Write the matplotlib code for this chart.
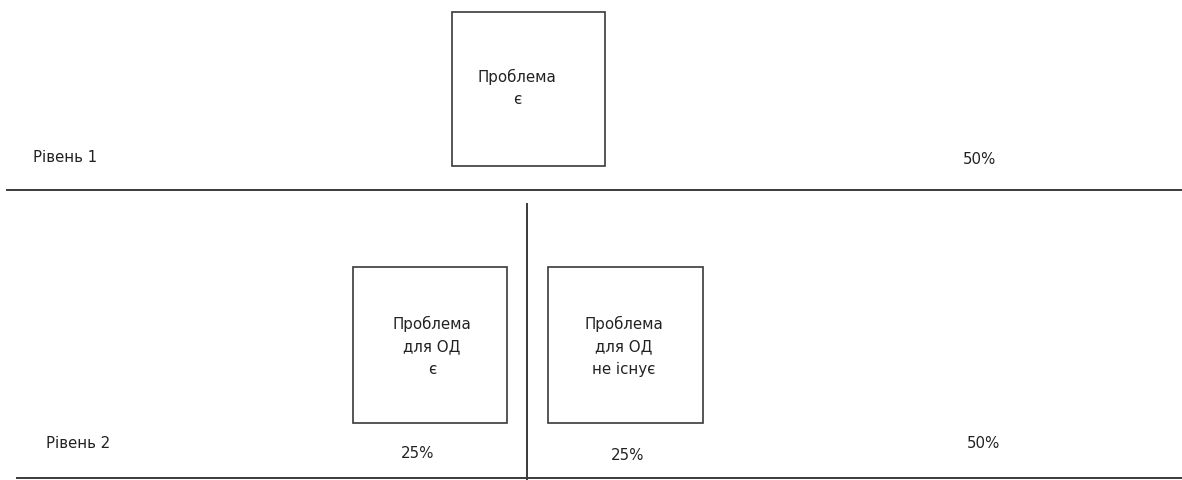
import matplotlib
matplotlib.use("Agg")
import matplotlib.pyplot as plt
from matplotlib.patches import Rectangle

plt.rcParams['font.family'] = ['DejaVu Sans']

# Data
level_labels = ["Рівень 1", "Рівень 2"]
level_totals = ["50%", "50%"]
box_texts = ["Проблема\nє", "Проблема\nдля ОД\nє", "Проблема\nдля ОД\nне існує"]
box_shares = [None, "25%", "25%"]

W, H = 1182, 480
fig = plt.figure(figsize=(W / 100, H / 100), dpi=100)
ax = fig.add_axes([0, 0, 1, 1])
ax.set_xlim(0, W)
ax.set_ylim(H, 0)
ax.axis('off')

lc = '#3a3a3a'
tc = '#222222'
fs = 10.8

# boxes: (x0, y0, w, h)
boxes = [(452, 12, 153, 154), (353, 267, 154, 156), (548, 267, 155, 156)]
text_pos = [(517, 88), (432, 346), (624, 346)]
share_pos = [None, (418, 454), (628, 456)]

for (x0, y0, w, h), txt, tp, sh, sp in zip(boxes, box_texts, text_pos, box_shares, share_pos):
    ax.add_patch(Rectangle((x0, y0), w, h, fill=False, edgecolor=lc, lw=1.2))
    ax.text(tp[0], tp[1], txt, ha='center', va='center', fontsize=fs, color=tc,
            linespacing=1.62)
    if sh:
        ax.text(sp[0], sp[1], sh, ha='center', va='center', fontsize=fs, color=tc)

# level separators
ax.plot([7, W], [190, 190], color=lc, lw=1.4)
ax.plot([17, W], [478, 478], color=lc, lw=1.4)
ax.plot([527, 527], [204, 480], color=lc, lw=1.4)

# level labels and totals
ax.text(33, 158, level_labels[0], ha='left', va='center', fontsize=fs, color=tc)
ax.text(46, 443, level_labels[1], ha='left', va='center', fontsize=fs, color=tc)
ax.text(980, 160, level_totals[0], ha='center', va='center', fontsize=fs, color=tc)
ax.text(984, 443, level_totals[1], ha='center', va='center', fontsize=fs, color=tc)

fig.savefig("out.png", dpi=100, facecolor='white')
